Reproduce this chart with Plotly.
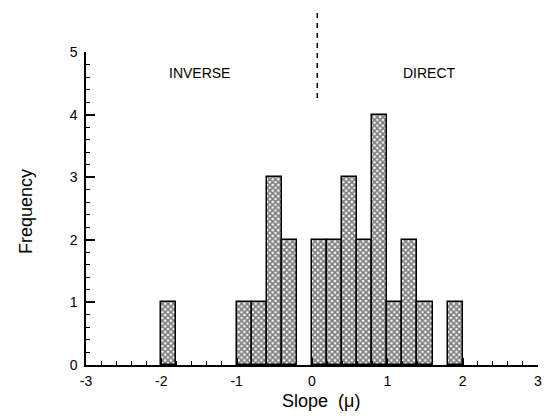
import plotly.graph_objects as go

# Histogram of slopes (bin width 0.2): left edges and frequencies
bin_starts = [-2.0, -1.0, -0.8, -0.6, -0.4, 0.0, 0.2, 0.4, 0.6, 0.8, 1.0, 1.2, 1.4, 1.8]
counts = [1, 1, 1, 3, 2, 2, 2, 3, 2, 4, 1, 2, 1, 1]
bin_width = 0.2

x_ticks = [-3, -2, -1, 0, 1, 2, 3]
y_ticks = [0, 1, 2, 3, 4, 5]
divider_x = 0.07

FONT = "Liberation Sans, Arial, sans-serif"

fig = go.Figure()
fig.add_trace(go.Bar(
    x=bin_starts, y=counts, width=bin_width, offset=0,
    marker=dict(
        color="white",
        line=dict(color="black", width=1.5),
        pattern=dict(shape="x", fgcolor="black", bgcolor="white", size=4, solidity=0.7),
    ),
    showlegend=False,
))

fig.add_shape(type="line", xref="x", yref="paper",
              x0=divider_x, x1=divider_x, y0=0.853, y1=1.134,
              line=dict(color="black", width=1.5, dash="5px,5px"))

fig.add_annotation(text="INVERSE", x=-1.49, y=0.965, xref="x", yref="paper",
                   showarrow=False, font=dict(size=14, color="black", family=FONT))
fig.add_annotation(text="DIRECT", x=1.56, y=0.965, xref="x", yref="paper",
                   showarrow=False, font=dict(size=14, color="black", family=FONT))
fig.add_annotation(text="Slope\u00a0\u00a0(\u03bc)", x=0.12, y=-0.115, xref="x", yref="paper",
                   yanchor="middle", showarrow=False,
                   font=dict(size=18, color="black", family=FONT))
fig.add_annotation(text="Frequency", x=-0.134, y=0.49, xref="paper", yref="paper",
                   xanchor="center", yanchor="middle",
                   textangle=-90, showarrow=False,
                   font=dict(size=18, color="black", family=FONT))

fig.update_layout(
    width=549, height=419,
    margin=dict(l=86, r=7, t=52, b=54),
    paper_bgcolor="white", plot_bgcolor="white",
    font=dict(family=FONT, color="black", size=14),
    bargap=0,
    xaxis=dict(
        range=[-3, 3], tickvals=x_ticks, ticktext=[str(v) for v in x_ticks],
        showgrid=False, zeroline=False, showline=True, linecolor="black", linewidth=1.5,
        ticks="inside", ticklen=7, tickwidth=1.5, tickcolor="black",
        minor=dict(dtick=0.2, ticks="inside", ticklen=4, tickwidth=1.2, tickcolor="black", showgrid=False),
        tickfont=dict(size=14), ticklabelstandoff=2,
    ),
    yaxis=dict(
        range=[0, 5], tickvals=y_ticks, ticktext=[str(v) for v in y_ticks],
        showgrid=False, zeroline=False, showline=True, linecolor="black", linewidth=1.5,
        ticks="inside", ticklen=9, tickwidth=1.5, tickcolor="black",
        minor=dict(dtick=0.2, ticks="inside", ticklen=4, tickwidth=1.2, tickcolor="black", showgrid=False),
        tickfont=dict(size=14), ticklabelstandoff=4,
    ),
)

fig.write_html("out.html", config={"displayModeBar": False},
               post_script="document.body.style.margin='0';")
